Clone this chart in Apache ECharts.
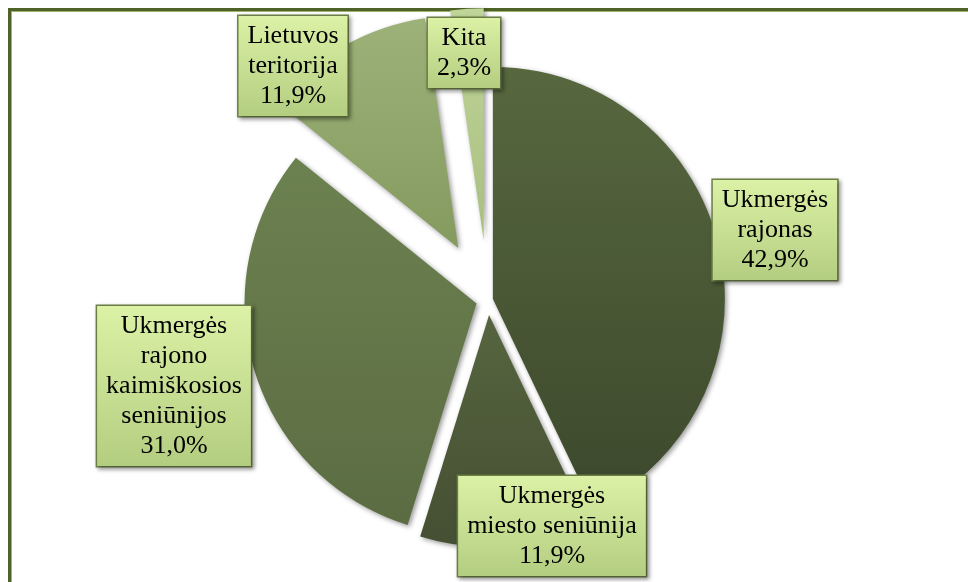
<!DOCTYPE html>
<html>
<head>
<meta charset="utf-8">
<script src="https://cdn.jsdelivr.net/npm/echarts@6/dist/echarts.min.js"></script>
<style>
  html, body { margin: 0; padding: 0; background: #fff; }
  .father { position: relative; width: 968px; height: 582px; overflow: hidden; }
  .frame {
    position: absolute; left: 8px; top: 8px; width: 1000px; height: 620px;
    border-top: 3px solid #4f6328; border-left: 3px solid #4f6328;
    box-shadow: inset 1px 1px 0 #9fb372;
  }
  .pie { position: absolute; left: 0; top: 0; width: 968px; height: 582px; }
</style>
</head>
<body>
<div class="father">
  <div class="frame"></div>
  <div class="pie" id="pie"></div>
</div>
<script>
// data
const categories = [
  "Ukmergės\nrajonas",
  "Ukmergės\nmiesto seniūnija",
  "Ukmergės\nrajono\nkaimiškosios\nseniūnijos",
  "Lietuvos\nteritorija",
  "Kita",
];
const shares = [42.9, 11.9, 31.0, 11.9, 2.3];

// styles / layout
const sliceColors = [
  ["#57683f", "#3c482c"],
  ["#56653f", "#454f33"],
  ["#6c8150", "#5b6c42"],
  ["#9db278", "#859a5f"],
  ["#c0d598", "#a9bf80"],
];
const explode = [5, 15, 12, 60, 60];
const labelCenters = [
  [775, 230],
  [552, 526],
  [174, 386],
  [293, 66],
  [464, 53],
];

const chart = echarts.init(document.querySelector("#pie"));

function pct(v) {
  return v.toFixed(1).replace(".", ",") + "%";
}

const base = {
  type: "pie",
  center: [488, 300],
  radius: 232,
  startAngle: 90,
  clockwise: true,
  avoidLabelOverlap: false,
  animation: false,
  silent: true,
  emphasis: { disabled: true },
  labelLine: { show: false },
};

// one pie per explode distance, the other slices are left transparent
const groups = [...new Set(explode)];
const series = groups.map((off) => ({
  ...base,
  selectedMode: "multiple",
  selectedOffset: off,
  label: { show: false },
  data: categories.map((name, i) => {
    const mine = explode[i] === off;
    return {
      name: name,
      value: shares[i],
      selected: mine,
      itemStyle: mine
        ? {
            color: new echarts.graphic.LinearGradient(0, 0, 0, 1, [
              { offset: 0, color: sliceColors[i][0] },
              { offset: 1, color: sliceColors[i][1] },
            ]),
            shadowColor: "rgba(0,0,0,0.4)",
            shadowBlur: 5,
            shadowOffsetX: 2,
            shadowOffsetY: 2,
          }
        : { color: "rgba(0,0,0,0)" },
    };
  }),
}));

// labels only
series.push({
  ...base,
  itemStyle: { color: "rgba(0,0,0,0)" },
  label: {
    show: true,
    position: "inside",
    formatter: (p) => p.name + "\n" + pct(p.value),
    color: "#000",
    fontFamily: "'Liberation Serif', 'DejaVu Serif', serif",
    fontSize: 26,
    lineHeight: 30,
    align: "center",
    padding: [6, 9, 4, 9],
    backgroundColor: new echarts.graphic.LinearGradient(0, 0, 0, 1, [
      { offset: 0, color: "#dcf2a6" },
      { offset: 1, color: "#b3cd80" },
    ]),
    borderColor: "#6f8248",
    borderWidth: 1.5,
    shadowColor: "rgba(0,0,0,0.35)",
    shadowBlur: 4,
    shadowOffsetX: 2,
    shadowOffsetY: 2,
  },
  labelLayout: (p) => ({
    x: labelCenters[p.dataIndex][0],
    y: labelCenters[p.dataIndex][1],
    align: "center",
    verticalAlign: "middle",
  }),
  data: categories.map((name, i) => ({ name: name, value: shares[i] })),
});

chart.setOption({ series: series });
</script>
</body>
</html>
